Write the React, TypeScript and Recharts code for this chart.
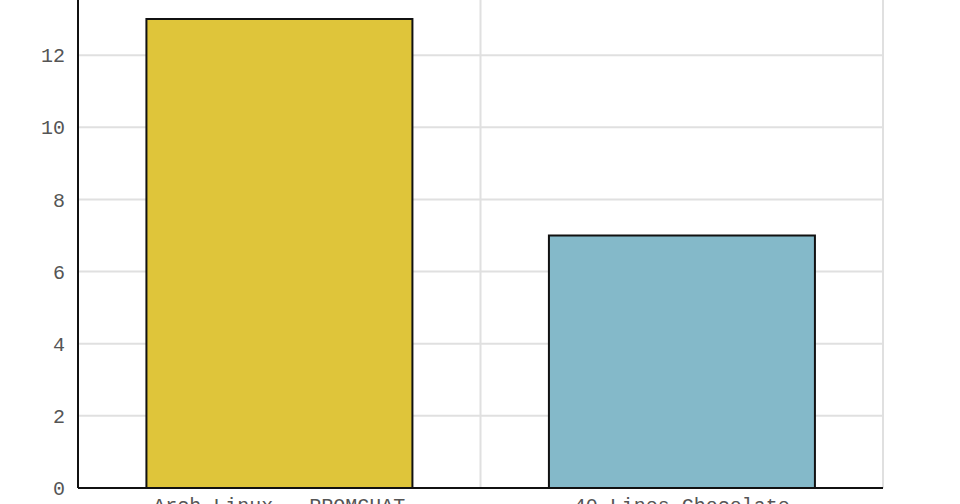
import React from "react";
import { BarChart, Bar, XAxis, YAxis, CartesianGrid, Cell } from "recharts";

const categories = ["Arch Linux - PROMCHAT", "40 Lines Chocolate"];
const values = [13, 7];
const colors = ["#dfc53a", "#84b9c9"];
const yTicks = [0, 2, 4, 6, 8, 10, 12];

const data = categories.map((name, i) => ({ name, value: values[i] }));

const FONT = "'Liberation Mono', 'DejaVu Sans Mono', monospace";

export default function App() {
  return (
    <div
      style={{
        position: "absolute",
        left: 0,
        top: 0,
        width: 960,
        height: 504,
        overflow: "hidden",
        background: "#fff",
      }}
    >
      <div style={{ position: "relative", top: -17 }}>
        <BarChart
          width={960}
          height={560}
          data={data}
          margin={{ top: 0, right: 77, bottom: 0, left: 0 }}
          barCategoryGap="17%"
        >
          <CartesianGrid
            stroke="#e0e0e0"
            strokeWidth={2}
            verticalCoordinatesGenerator={(props: any) => {
              const off = props.offset;
              const n = categories.length;
              return Array.from({ length: n + 1 }, (_, i) => off.left + (off.width * i) / n);
            }}
          />
          <XAxis
            dataKey="name"
            height={55}
            tickLine={false}
            tickSize={0}
            tickMargin={10}
            axisLine={{ stroke: "#111", strokeWidth: 2 }}
            tick={{ fill: "#555", fontSize: 20, fontFamily: FONT }}
            interval={0}
          />
          <YAxis
            width={78}
            domain={[0, 14]}
            ticks={yTicks}
            tickLine={false}
            tickSize={0}
            tickMargin={13}
            axisLine={{ stroke: "#111", strokeWidth: 2 }}
            tick={{ fill: "#555", fontSize: 20, fontFamily: FONT }}
          />
          <Bar dataKey="value" stroke="#111" strokeWidth={2} isAnimationActive={false}>
            {data.map((d, i) => (
              <Cell key={d.name} fill={colors[i]} />
            ))}
          </Bar>
        </BarChart>
      </div>
    </div>
  );
}
